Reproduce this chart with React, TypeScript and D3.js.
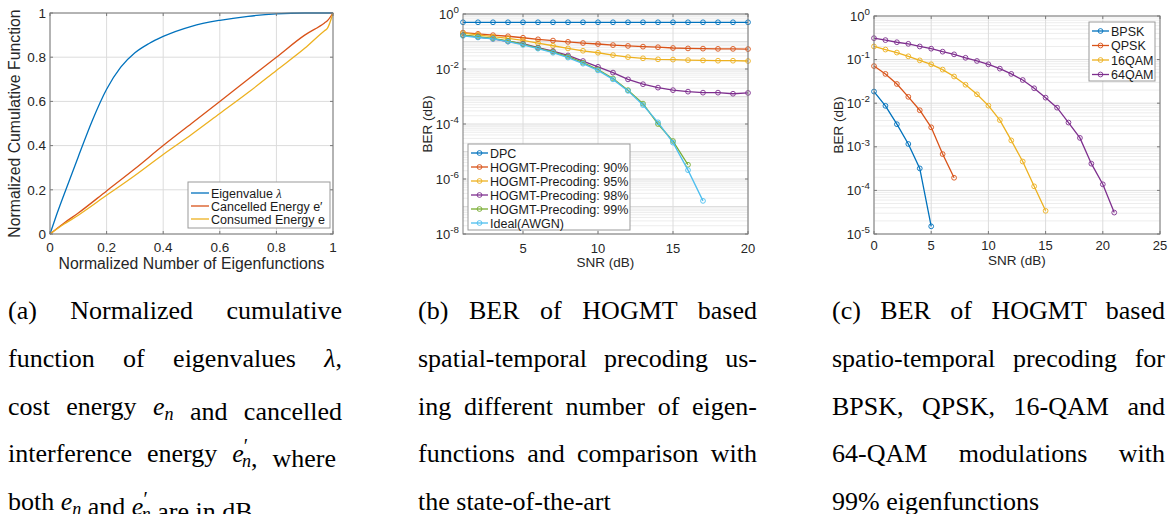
import React, { useEffect, useRef } from "react";
import * as d3 from "d3";

const SANS = "'Liberation Sans', Arial, Helvetica, sans-serif";
const SERIF = "'Liberation Serif', 'Times New Roman', serif";

const BLUE = "#0072BD", RED = "#D95319", YELLOW = "#EDB120", PURPLE = "#7E2F8E", GREEN = "#77AC30", CYAN = "#4DBEEE";

// (a) normalized cumulative functions
const eigX = [0, 0.02, 0.05, 0.1, 0.15, 0.2, 0.25, 0.3, 0.35, 0.4, 0.5, 0.6, 0.7, 0.8, 0.9, 1];
const eigY = [0, 0.075, 0.18, 0.35, 0.515, 0.655, 0.755, 0.82, 0.862, 0.894, 0.94, 0.967, 0.985, 0.996, 1, 1];
const cancX = [0, 0.05, 0.1, 0.2, 0.3, 0.4, 0.5, 0.6, 0.7, 0.8, 0.9, 0.97, 0.98, 1];
const cancY = [0, 0.05, 0.095, 0.195, 0.295, 0.4, 0.5, 0.6, 0.7, 0.8, 0.9, 0.955, 0.965, 1];
const consX = [0, 0.05, 0.1, 0.2, 0.3, 0.4, 0.5, 0.6, 0.7, 0.8, 0.9, 0.97, 0.98, 1];
const consY = [0, 0.045, 0.085, 0.175, 0.265, 0.36, 0.45, 0.545, 0.64, 0.74, 0.84, 0.92, 0.93, 1];

// (b) BER vs SNR, different numbers of eigenfunctions
const snrB = d3.range(1, 21);
const berDPC = [0.5, 0.5, 0.5, 0.5, 0.5, 0.5, 0.5, 0.5, 0.5, 0.5, 0.5, 0.5, 0.5, 0.5, 0.5, 0.5, 0.5, 0.5, 0.5, 0.5];
const ber90 = [0.21, 0.19, 0.17, 0.155, 0.137, 0.12, 0.108, 0.097, 0.088, 0.081, 0.074, 0.069, 0.065, 0.062, 0.058, 0.056, 0.055, 0.054, 0.054, 0.053];
const ber95 = [0.2, 0.175, 0.15, 0.13, 0.11, 0.088, 0.07, 0.056, 0.046, 0.039, 0.032, 0.027, 0.0245, 0.0225, 0.022, 0.021, 0.0205, 0.02, 0.02, 0.0195];
const ber98 = [0.17, 0.145, 0.125, 0.1, 0.083, 0.06, 0.045, 0.031, 0.0195, 0.012, 0.0074, 0.0042, 0.0028, 0.0021, 0.0017, 0.0015, 0.00138, 0.00138, 0.00126, 0.00135];
const ber99 = [0.17, 0.15, 0.13, 0.105, 0.08, 0.058, 0.042, 0.028, 0.017, 0.0095, 0.0045, 0.0017, 0.00055, 0.0001, 2.4e-5, 3.3e-6];
const berAWGN = [0.16, 0.14, 0.125, 0.099, 0.075, 0.055, 0.039, 0.026, 0.0156, 0.0089, 0.0042, 0.0016, 0.00049, 1.15e-4, 2.1e-5, 2.1e-6, 1.6e-7];

// (c) BER vs SNR, modulations
const berBPSK = [0.0185, 0.0087, 0.0033, 0.00116, 3.2e-4, 1.5e-5];
const berQPSK = [0.071, 0.047, 0.0276, 0.014, 0.0069, 0.0028, 6.8e-4, 1.95e-4];
const ber16 = [0.2, 0.17, 0.145, 0.119, 0.096, 0.078, 0.059, 0.041, 0.0265, 0.016, 0.0088, 0.0041, 0.0014, 4.6e-4, 1.24e-4, 3.4e-5];
const ber64 = [0.31, 0.28, 0.25, 0.23, 0.2, 0.178, 0.152, 0.132, 0.11, 0.093, 0.078, 0.062, 0.047, 0.034, 0.022, 0.0134, 0.0079, 0.0036, 0.0016, 4.1e-4, 1.38e-4, 3.1e-5];

const ticksA = [0, 0.2, 0.4, 0.6, 0.8, 1];
const xTicksB = [5, 10, 15, 20];
const yExpB = [0, -2, -4, -6, -8];
const xTicksC = [0, 5, 10, 15, 20, 25];
const yExpC = [0, -1, -2, -3, -4, -5];

type Series = { name: string; color: string; x: number[]; y: number[]; marker: boolean };

function drawPanel(svg: any, cfg: any) {
  const { x, y, log, xTicks, yTicks, yExp, series, xLabel, yLabel, legend, fs, lfs, xTickY, xLabelY, yLabelX, curve } = cfg;
  const g = svg.append("g");
  const [x0, x1] = x.range();
  const [yb, yt] = y.range();

  // grid
  if (log) {
    const [d0, d1] = y.domain();
    const lo = Math.round(Math.log10(d0)), hi = Math.round(Math.log10(d1));
    for (let k = lo; k < hi; k++) {
      for (let m = 1; m < 10; m++) {
        if (m === 1 && yExp.includes(k)) continue;
        const yy = y(m * Math.pow(10, k));
        g.append("line").attr("x1", x0).attr("x2", x1).attr("y1", yy).attr("y2", yy)
          .attr("stroke", m === 1 ? "#dedede" : "#ededed").attr("stroke-width", 1);
      }
    }
  }
  const yt2 = log ? yExp.map((e: number) => Math.pow(10, e)) : yTicks;
  yt2.forEach((v: number) => {
    g.append("line").attr("x1", x0).attr("x2", x1).attr("y1", y(v)).attr("y2", y(v)).attr("stroke", "#dcdcdc");
  });
  xTicks.forEach((v: number) => {
    g.append("line").attr("x1", x(v)).attr("x2", x(v)).attr("y1", yb).attr("y2", yt).attr("stroke", "#dcdcdc");
  });

  // series
  const line = d3.line<[number, number]>().x(d => x(d[0])).y(d => y(d[1])).curve(curve || d3.curveLinear);
  series.forEach((s: Series) => {
    const pts = s.y.map((v, i) => [s.x[i], v] as [number, number]);
    g.append("path").attr("d", line(pts)).attr("fill", "none").attr("stroke", s.color).attr("stroke-width", 1.3);
    if (s.marker) {
      g.selectAll(null).data(pts).join("circle")
        .attr("cx", d => x(d[0])).attr("cy", d => y(d[1])).attr("r", 2.4)
        .attr("fill", "none").attr("stroke", s.color).attr("stroke-width", 0.9);
    }
  });

  // box and ticks
  g.append("rect").attr("x", x0).attr("y", yt).attr("width", x1 - x0).attr("height", yb - yt)
    .attr("fill", "none").attr("stroke", "#7a7a7a").attr("stroke-width", 1);
  xTicks.forEach((v: number) => {
    g.append("line").attr("x1", x(v)).attr("x2", x(v)).attr("y1", yb).attr("y2", yb - 3).attr("stroke", "#7a7a7a");
    g.append("line").attr("x1", x(v)).attr("x2", x(v)).attr("y1", yt).attr("y2", yt + 3).attr("stroke", "#7a7a7a");
    g.append("text").attr("x", x(v)).attr("y", xTickY).attr("text-anchor", "middle")
      .attr("font-family", SANS).attr("font-size", fs).attr("fill", "#262626").text(String(v));
  });
  yt2.forEach((v: number, i: number) => {
    g.append("line").attr("x1", x0).attr("x2", x0 + 3).attr("y1", y(v)).attr("y2", y(v)).attr("stroke", "#7a7a7a");
    g.append("line").attr("x1", x1).attr("x2", x1 - 3).attr("y1", y(v)).attr("y2", y(v)).attr("stroke", "#7a7a7a");
    const t = g.append("text").attr("x", x0 - 4).attr("y", y(v) + fs * 0.36).attr("text-anchor", "end")
      .attr("font-family", SANS).attr("font-size", fs).attr("fill", "#262626");
    if (log) {
      const e = yExp[i];
      t.append("tspan").text("10");
      t.append("tspan").attr("font-size", fs * 0.75).attr("dy", -fs * 0.45).text(e === 0 ? "0" : "-" + Math.abs(e));
    } else {
      t.text(String(v));
    }
  });

  // labels
  g.append("text").attr("x", (x0 + x1) / 2).attr("y", xLabelY).attr("text-anchor", "middle")
    .attr("font-family", SANS).attr("font-size", lfs).attr("fill", "#262626").text(xLabel);
  g.append("text").attr("transform", `translate(${yLabelX},${(yb + yt) / 2}) rotate(-90)`)
    .attr("text-anchor", "middle").attr("dy", lfs * 0.35)
    .attr("font-family", SANS).attr("font-size", lfs).attr("fill", "#262626").text(yLabel);

  // legend
  const L = legend;
  const lg = g.append("g");
  lg.append("rect").attr("x", L.x).attr("y", L.y).attr("width", L.w).attr("height", L.h)
    .attr("fill", "white").attr("stroke", "#9a9a9a").attr("stroke-width", 1);
  series.forEach((s: Series, i: number) => {
    const yy = L.y + L.first + i * L.step;
    lg.append("line").attr("x1", L.x + 3).attr("x2", L.x + 3 + L.len).attr("y1", yy).attr("y2", yy)
      .attr("stroke", s.color).attr("stroke-width", 1.3);
    if (s.marker) {
      lg.append("circle").attr("cx", L.x + 3 + L.len / 2).attr("cy", yy).attr("r", 2.4)
        .attr("fill", "none").attr("stroke", s.color).attr("stroke-width", 0.9);
    }
    const t = lg.append("text").attr("x", L.x + 5 + L.len).attr("y", yy + L.fs * 0.36)
      .attr("font-family", SANS).attr("font-size", L.fs).attr("fill", "#1a1a1a");
    if (L.rich && L.rich[i]) {
      t.append("tspan").text(L.rich[i][0]);
      t.append("tspan").attr("font-family", SERIF).attr("font-style", "italic").text(L.rich[i][1]);
    } else t.text(s.name);
  });
}

type Seg = { t: string; it?: boolean; sub?: boolean; prime?: boolean };
const capA: Seg[][] = [
  [{ t: "(a) Normalized cumulative" }],
  [{ t: "function of eigenvalues " }, { t: "λ", it: true }, { t: "," }],
  [{ t: "cost energy " }, { t: "e", it: true }, { t: "n", it: true, sub: true }, { t: " and cancelled" }],
  [{ t: "interference energy " }, { t: "e", it: true }, { t: "n", it: true, sub: true, prime: true }, { t: ", where" }],
  [{ t: "both " }, { t: "e", it: true }, { t: "n", it: true, sub: true }, { t: " and " }, { t: "e", it: true }, { t: "n", it: true, sub: true, prime: true }, { t: " are in dB" }],
];
const capB: Seg[][] = [
  [{ t: "(b) BER of HOGMT based" }],
  [{ t: "spatial-temporal precoding us-" }],
  [{ t: "ing different number of eigen-" }],
  [{ t: "functions and comparison with" }],
  [{ t: "the state-of-the-art" }],
];
const capC: Seg[][] = [
  [{ t: "(c) BER of HOGMT based" }],
  [{ t: "spatio-temporal precoding for" }],
  [{ t: "BPSK, QPSK, 16-QAM and" }],
  [{ t: "64-QAM modulations with" }],
  [{ t: "99% eigenfunctions" }],
];

function Caption({ x, w, lines }: { x: number; w: number; lines: Seg[][] }) {
  const FS = 26;
  return (
    <g>
      {lines.map((ln, i) => {
        const kids: any[] = [];
        ln.forEach((s, j) => {
          if (s.sub) {
            if (s.prime) {
              kids.push(<tspan key={j + "p"} fontSize={20} dy={-9} dx={0}>′</tspan>);
              kids.push(<tspan key={j} fontStyle="italic" fontSize={18} dx={-6} dy={14}>{s.t}</tspan>);
            } else {
              kids.push(<tspan key={j} fontStyle="italic" fontSize={18} dy={5}>{s.t}</tspan>);
            }
            kids.push(<tspan key={j + "r"} dy={-5} fontSize={FS}>{""}</tspan>);
          } else {
            kids.push(<tspan key={j} fontStyle={s.it ? "italic" : "normal"}>{s.t}</tspan>);
          }
        });
        return (
          <text key={i} className="cap" data-w={i < lines.length - 1 ? w : 0}
            x={x} y={319 + i * 47.8} fontFamily={SERIF} fontSize={FS} fill="#000"
            style={{ whiteSpace: "pre" }}>
            {kids}
          </text>
        );
      })}
    </g>
  );
}

export default function App() {
  const ref = useRef<SVGSVGElement>(null);

  useEffect(() => {
    const svg = d3.select(ref.current);
    svg.select("g.plots").remove();
    const root = svg.append("g").attr("class", "plots");

    drawPanel(root, {
      x: d3.scaleLinear().domain([0, 1]).range([50, 333]),
      y: d3.scaleLinear().domain([0, 1]).range([234, 13]),
      log: false, xTicks: ticksA, yTicks: ticksA, curve: d3.curveMonotoneX,
      series: [
        { name: "Eigenvalue λ", color: BLUE, x: eigX, y: eigY, marker: false },
        { name: "Cancelled Energy e′", color: RED, x: cancX, y: cancY, marker: false },
        { name: "Consumed Energy e", color: YELLOW, x: consX, y: consY, marker: false },
      ],
      xLabel: "Normalized Number of Eigenfunctions", yLabel: "Normalized Cumulative Function",
      fs: 13.5, lfs: 15.8, xTickY: 252, xLabelY: 269, yLabelX: 14,
      legend: { x: 188, y: 182, w: 142, h: 46, first: 11, step: 13, len: 18, fs: 12.5,
        rich: [["Eigenvalue ", "λ"], null, null] },
    });

    drawPanel(root, {
      x: d3.scaleLinear().domain([1, 20]).range([463, 748]),
      y: d3.scaleLog().domain([1e-8, 1]).range([234, 14]),
      log: true, xTicks: xTicksB, yExp: yExpB,
      series: [
        { name: "DPC", color: BLUE, x: snrB, y: berDPC, marker: true },
        { name: "HOGMT-Precoding: 90%", color: RED, x: snrB, y: ber90, marker: true },
        { name: "HOGMT-Precoding: 95%", color: YELLOW, x: snrB, y: ber95, marker: true },
        { name: "HOGMT-Precoding: 98%", color: PURPLE, x: snrB, y: ber98, marker: true },
        { name: "HOGMT-Precoding: 99%", color: GREEN, x: snrB, y: ber99, marker: true },
        { name: "Ideal(AWGN)", color: CYAN, x: snrB, y: berAWGN, marker: true },
      ],
      xLabel: "SNR (dB)", yLabel: "BER (dB)",
      fs: 13, lfs: 13.5, xTickY: 253, xLabelY: 267, yLabelX: 427,
      legend: { x: 468, y: 144, w: 162, h: 86, first: 9, step: 14, len: 17, fs: 12.5 },
    });

    drawPanel(root, {
      x: d3.scaleLinear().domain([0, 25]).range([874, 1160]),
      y: d3.scaleLog().domain([1e-5, 1]).range([234, 16]),
      log: true, xTicks: xTicksC, yExp: yExpC,
      series: [
        { name: "BPSK", color: BLUE, x: d3.range(berBPSK.length), y: berBPSK, marker: true },
        { name: "QPSK", color: RED, x: d3.range(berQPSK.length), y: berQPSK, marker: true },
        { name: "16QAM", color: YELLOW, x: d3.range(ber16.length), y: ber16, marker: true },
        { name: "64QAM", color: PURPLE, x: d3.range(ber64.length), y: ber64, marker: true },
      ],
      xLabel: "SNR (dB)", yLabel: "BER (dB)",
      fs: 13, lfs: 13.5, xTickY: 250, xLabelY: 265, yLabelX: 838,
      legend: { x: 1089, y: 22, w: 66, h: 59, first: 9, step: 14.5, len: 17, fs: 12.5 },
    });

    // justify caption lines by spreading the word gaps
    svg.selectAll<SVGTextElement, unknown>("text.cap").each(function () {
      const w = +(this.getAttribute("data-w") || 0);
      if (!w) return;
      this.style.wordSpacing = "0px";
      const nat = this.getComputedTextLength();
      const gaps = (this.textContent || "").split(" ").length - 1;
      if (gaps > 0 && nat < w) this.style.wordSpacing = (w - nat) / gaps + "px";
    });
  }, []);

  return (
    <svg ref={ref} width={1171} height={514} style={{ position: "absolute", left: 0, top: 0, background: "#fff" }}>
      <Caption x={8} w={334} lines={capA} />
      <Caption x={418} w={339} lines={capB} />
      <Caption x={832} w={333} lines={capC} />
    </svg>
  );
}
